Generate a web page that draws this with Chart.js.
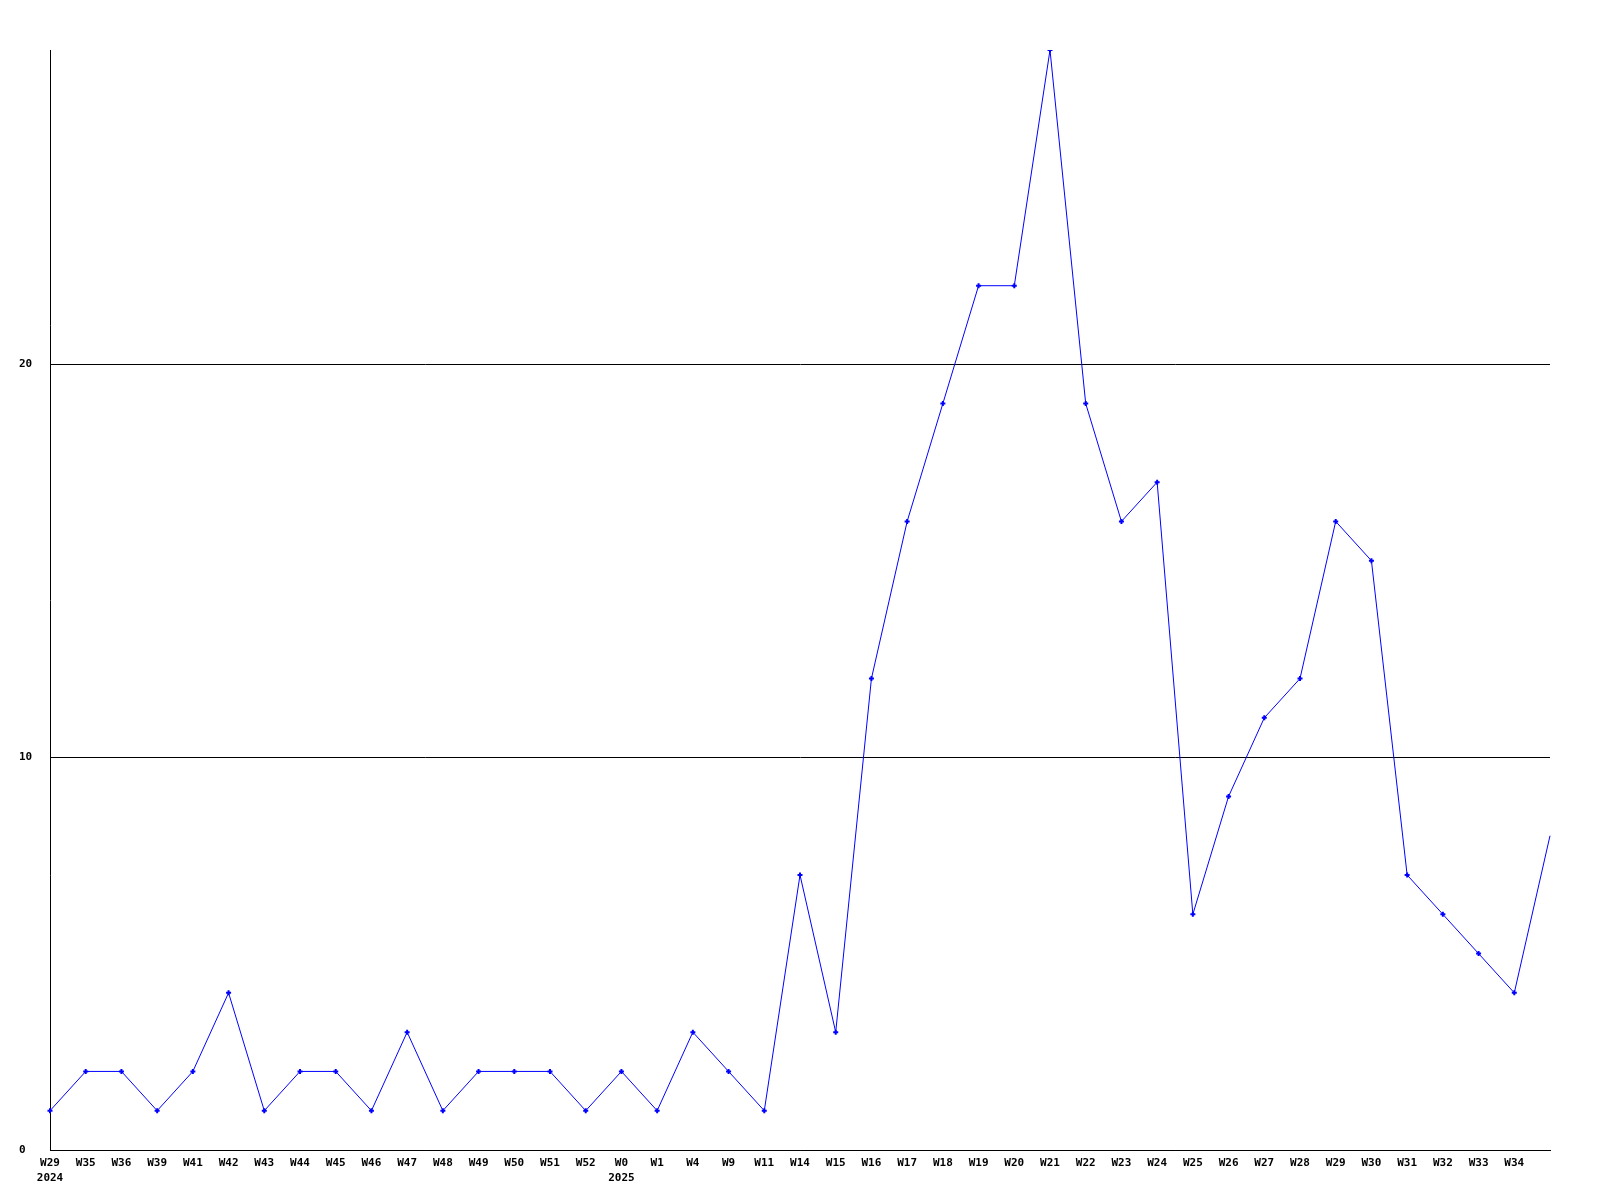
<!DOCTYPE html>
<html>
<head>
<meta charset="utf-8">
<script src="https://cdn.jsdelivr.net/npm/chart.js@4"></script>
<style>
  html, body { margin: 0; padding: 0; background: #fff; }
  #wrap { width: 1600px; height: 1200px; }
</style>
</head>
<body>
<div id="wrap"><canvas id="myChart" width="1600" height="1200"></canvas></div>
<script>
    // week labels (year on second line where it changes)
    const weeks = [
      ['W29', '2024'], 'W35', 'W36', 'W39', 'W41', 'W42', 'W43', 'W44', 'W45', 'W46', 'W47', 'W48',
      'W49', 'W50', 'W51', 'W52', ['W0', '2025'], 'W1', 'W4', 'W9', 'W11', 'W14', 'W15', 'W16',
      'W17', 'W18', 'W19', 'W20', 'W21', 'W22', 'W23', 'W24', 'W25', 'W26', 'W27', 'W28',
      'W29', 'W30', 'W31', 'W32', 'W33', 'W34', ''
    ];
    const counts = [
      1, 2, 2, 1, 2, 4, 1, 2, 2, 1, 3, 1,
      2, 2, 2, 1, 2, 1, 3, 2, 1, 7, 3, 12,
      16, 19, 22, 22, 28, 19, 16, 17, 6, 9, 11, 12,
      16, 15, 7, 6, 5, 4, 8
    ];
    const yTicks = [0, 10, 20];
    const yMax = 28;

    const tickFont = { family: 'DejaVu Sans Mono', size: 11, weight: 'bold', lineHeight: 1.36 };

    const config = {
      type: 'line',
      data: {
        labels: weeks,
        datasets: [{
          data: counts,
          borderColor: '#0000ff',
          backgroundColor: '#0000ff',
          borderWidth: 1,
          tension: 0,
          pointStyle: 'cross',
          // last point sits on the edge, no marker there
          pointRadius: (ctx) => ctx.dataIndex === counts.length - 1 ? 0 : 2.5,
          pointBorderWidth: 2,
          fill: false
        }]
      },
      options: {
        responsive: false,
        animation: false,
        layout: { padding: { left: 19, top: 50, right: 50, bottom: 0 } },
        plugins: { legend: { display: false }, tooltip: { enabled: false } },
        scales: {
          x: {
            type: 'category',
            offset: false,
            grid: { display: false, drawTicks: false },
            border: { display: true, color: '#000', width: 1 },
            ticks: {
              color: '#000', font: tickFont, padding: 6,
              autoSkip: false, maxRotation: 0, minRotation: 0
            },
            afterFit: (axis) => { axis.height = 50; }
          },
          y: {
            min: 0,
            max: yMax,
            afterBuildTicks: (axis) => { axis.ticks = yTicks.map(v => ({ value: v })); },
            grid: { color: '#000', lineWidth: 1, drawTicks: false },
            border: { display: true, color: '#000', width: 1 },
            ticks: { color: '#000', font: tickFont, crossAlign: 'far', padding: 0 },
            afterFit: (axis) => { axis.width = 31; }
          }
        }
      }
    };

    const myChart = new Chart(document.getElementById('myChart'), config);
</script>
</body>
</html>
